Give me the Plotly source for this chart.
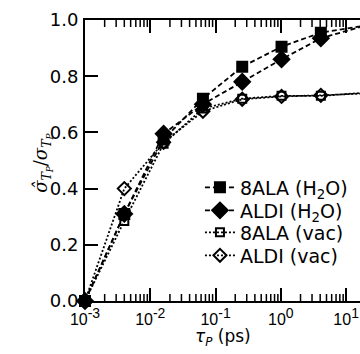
import plotly.graph_objects as go

tau_ps = [0.001, 0.004, 0.016, 0.064, 0.256, 1.024, 4.096, 16.384]
ala8_h2o = [0.0, 0.31, 0.575, 0.72, 0.834, 0.905, 0.955, 0.977]
aldi_h2o = [0.0, 0.31, 0.595, 0.70, 0.78, 0.86, 0.935, 0.975]
ala8_vac = [0.0, 0.285, 0.56, 0.685, 0.72, 0.73, 0.73, 0.74]
aldi_vac = [0.0, 0.40, 0.565, 0.675, 0.718, 0.728, 0.732, 0.738]

series = [
    ("8ALA (H<sub>2</sub>O)", ala8_h2o, "square", 10, "5px,3px"),
    ("ALDI (H<sub>2</sub>O)", aldi_h2o, "diamond", 12, "5px,3px"),
    ("8ALA (vac)", ala8_vac, "square-open", 8, "2px,2px"),
    ("ALDI (vac)", aldi_vac, "diamond-open", 10, "2px,2px"),
]

decades = [-3, -2, -1, 0, 1]
xtickvals = [10.0 ** d for d in decades]
xticktext = ["10<sup><span style='font-size:14px'>%d</span></sup>" % d for d in decades]
minor_vals = [m * 10.0 ** d for d in decades for m in range(2, 10)]
ytickvals = [0.0, 0.2, 0.4, 0.6, 0.8, 1.0]
yticktext = ["0.0", "0.2", "0.4", "0.6", "0.8", "1.0"]

legend_rows_y = [0.404, 0.322, 0.244, 0.162]
x_range = [-3, 1.212]

PLOT_H = 281
MINOR_LEN = 7 / PLOT_H

fig = go.Figure()
for i, (name, ys, sym, sz, dash) in enumerate(series):
    fig.add_trace(go.Scatter(
        x=tau_ps, y=ys, name=name, mode="lines+markers",
        legend="legend" if i == 0 else "legend%d" % (i + 1),
        line=dict(color="black", width=1.8, dash=dash),
        marker=dict(symbol=sym, size=sz, color="black",
                    line=dict(color="black", width=2)),
        cliponaxis=False,
    ))

# minor log ticks on bottom and top axes
for v in minor_vals:
    for y0, y1 in ((0, MINOR_LEN), (1, 1 - MINOR_LEN)):
        fig.add_shape(type="line", xref="x", yref="paper", x0=v, x1=v, y0=y0, y1=y1,
                      line=dict(color="black", width=1.5), layer="above")

legend_common = dict(x=0.418, xanchor="left", yanchor="middle",
                     bgcolor="rgba(0,0,0,0)",
                     font=dict(family="DejaVu Sans, sans-serif", size=19),
                     itemwidth=30)
legends = {}
for i, yy in enumerate(legend_rows_y):
    key = "legend" if i == 0 else "legend%d" % (i + 1)
    legends[key] = dict(legend_common, y=yy)

fig.update_layout(
    width=360, height=354,
    margin=dict(l=85, r=0, t=20, b=53),
    paper_bgcolor="white", plot_bgcolor="white",
    font=dict(family="Liberation Sans, Arial, sans-serif", size=17, color="black"),
    showlegend=True,
    xaxis=dict(type="log", range=x_range,
               tickvals=xtickvals, ticktext=xticktext,
               tickfont=dict(family="Liberation Sans, Arial, sans-serif", size=16),
               ticklabelstandoff=3,
               ticks="inside", ticklen=13, tickwidth=2, tickcolor="black",
               showline=True, linewidth=2, linecolor="black", mirror="allticks",
               showgrid=False, zeroline=False),
    yaxis=dict(range=[0, 1.0], tickvals=ytickvals, ticktext=yticktext,
               tickfont=dict(family="DejaVu Sans, sans-serif", size=18),
               ticklabelstandoff=1,
               ticks="inside", ticklen=13, tickwidth=2, tickcolor="black",
               showline=True, linewidth=2, linecolor="black", mirror=False,
               showgrid=False, zeroline=False),
    annotations=[
        dict(text="<i>τ<sub>P</sub></i> (ps)", xref="paper", yref="paper",
             x=0.5, y=-0.13, xanchor="center", yanchor="middle",
             showarrow=False, font=dict(family="DejaVu Sans, sans-serif", size=17)),
        dict(text="<i>σ̂<sub>T<sub>P</sub></sub></i>/<i>σ<sub>T<sub>P</sub></sub></i>",
             xref="paper", yref="paper", x=-0.157, y=0.491, textangle=-90,
             xanchor="center", yanchor="middle", showarrow=False,
             font=dict(family="DejaVu Serif, serif", size=18)),
    ],
    **legends,
)

fig.write_html("out.html", config={"displayModeBar": False},
               post_script="document.body.style.margin='0';")
